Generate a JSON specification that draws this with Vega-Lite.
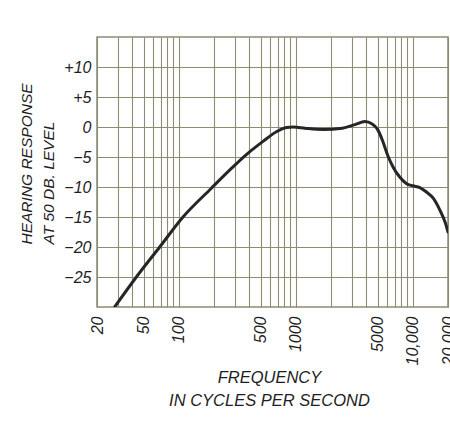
{
  "$schema": "https://vega.github.io/schema/vega-lite/v6.json",
  "autosize": "none",
  "width": 351,
  "height": 270,
  "padding": {"left": 97, "top": 37, "right": 2, "bottom": 123},
  "background": "#ffffff",
  "config": {
    "view": {"stroke": "#8c8c74", "strokeWidth": 1.5},
    "font": "Liberation Sans",
    "axis": {
      "labelFont": "Liberation Sans",
      "labelFontStyle": "italic",
      "labelFontSize": 16,
      "labelColor": "#1e1e1e",
      "titleFont": "Liberation Sans",
      "titleFontStyle": "italic",
      "titleFontWeight": "normal",
      "titleColor": "#1e1e1e",
      "gridColor": "#8c8c74",
      "gridOpacity": 1,
      "gridWidth": 1.1,
      "domain": false,
      "ticks": false
    }
  },
  "data": {
    "values": [
      {"freq": 28.3, "db": -30},
      {"freq": 43.4, "db": -25},
      {"freq": 68.7, "db": -20},
      {"freq": 108.7, "db": -15},
      {"freq": 190, "db": -10.2},
      {"freq": 272, "db": -7.2},
      {"freq": 378, "db": -4.6},
      {"freq": 525, "db": -2.4},
      {"freq": 683, "db": -0.8},
      {"freq": 832, "db": -0.1},
      {"freq": 950, "db": 0},
      {"freq": 1200, "db": -0.2},
      {"freq": 1700, "db": -0.4},
      {"freq": 2500, "db": -0.2},
      {"freq": 3200, "db": 0.4},
      {"freq": 3900, "db": 0.9},
      {"freq": 4500, "db": 0.5},
      {"freq": 5000, "db": -0.4},
      {"freq": 5500, "db": -2.2},
      {"freq": 6100, "db": -4.7},
      {"freq": 6800, "db": -6.7},
      {"freq": 7700, "db": -8.3},
      {"freq": 8800, "db": -9.4},
      {"freq": 10000, "db": -9.8},
      {"freq": 11500, "db": -10.1},
      {"freq": 13000, "db": -10.8},
      {"freq": 15000, "db": -11.9},
      {"freq": 17000, "db": -13.8},
      {"freq": 19000, "db": -16},
      {"freq": 20000, "db": -17.5}
    ]
  },
  "mark": {"type": "line", "interpolate": "monotone", "color": "#262626", "strokeWidth": 3, "strokeCap": "round", "clip": true},
  "encoding": {
    "x": {
      "field": "freq",
      "type": "quantitative",
      "scale": {"type": "log", "domain": [20, 20000], "nice": false},
      "axis": {
        "values": [20, 30, 40, 50, 60, 70, 80, 90, 100, 200, 300, 400, 500, 600, 700, 800, 900, 1000, 2000, 3000, 4000, 5000, 6000, 7000, 8000, 9000, 10000, 20000],
        "labelExpr": "indexof([20, 50, 100, 500, 1000, 5000, 10000, 20000], datum.value) >= 0 ? (datum.value >= 10000 ? format(datum.value, ',') : format(datum.value, 'd')) : ''",
        "labelAngle": -90,
        "labelAlign": "right",
        "labelBaseline": "middle",
        "labelPadding": 9,
        "labelOverlap": false,
        "labelBound": false,
        "labelFlush": false,
        "title": ["FREQUENCY", "IN CYCLES PER SECOND"],
        "titleFontSize": 16.5,
        "titleLineHeight": 23,
        "titleBaseline": "top",
        "titleY": 62,
        "titleX": 172
      }
    },
    "y": {
      "field": "db",
      "type": "quantitative",
      "scale": {"domain": [-30, 15], "nice": false, "zero": false},
      "axis": {
        "values": [-25, -20, -15, -10, -5, 0, 5, 10],
        "labelExpr": "datum.value > 0 ? '+' + datum.value : (datum.value < 0 ? '\u2212' + abs(datum.value) : '0')",
        "labelPadding": 6,
        "title": ["HEARING RESPONSE", "AT 50 DB. LEVEL"],
        "titleFontSize": 15.5,
        "titleLineHeight": 22,
        "titleAngle": -90,
        "titleAlign": "left",
        "titleBaseline": "top",
        "titleX": -78,
        "titleY": 207
      }
    }
  }
}
